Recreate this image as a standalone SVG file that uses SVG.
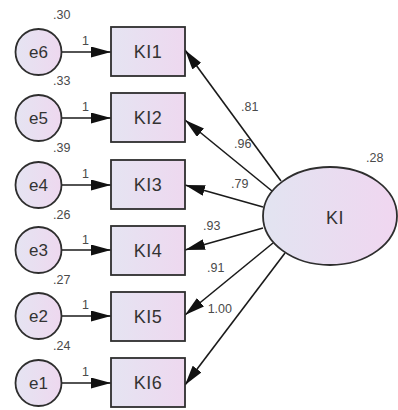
<svg xmlns="http://www.w3.org/2000/svg" width="398" height="410" viewBox="0 0 398 410">
  <defs>
    <linearGradient id="fillBox" x1="0" y1="0" x2="1" y2="0">
      <stop offset="0" stop-color="#e5e4f2"/>
      <stop offset="1" stop-color="#eed8ef"/>
    </linearGradient>
    <linearGradient id="fillLatent" x1="0" y1="0" x2="1" y2="0">
      <stop offset="0" stop-color="#e2e4f1"/>
      <stop offset="1" stop-color="#f0d6f0"/>
    </linearGradient>
    <marker id="head" markerUnits="userSpaceOnUse" markerWidth="21" markerHeight="11" refX="20" refY="5.5" orient="auto" viewBox="0 0 21 11">
      <path d="M0,0 L20,5.5 L0,11 Z" fill="#111"/>
    </marker>
    <style>
      .node { stroke: #2e2e2e; stroke-width: 1.8; }
      .box { fill: url(#fillBox); }
      .err { fill: url(#fillBox); }
      .lat { fill: url(#fillLatent); }
      .name { font-family: "Liberation Sans", Arial, sans-serif; font-size: 18px; fill: #333; text-anchor: middle; letter-spacing: 0.5px; }
      .ename { font-family: "Liberation Sans", Arial, sans-serif; font-size: 17px; fill: #333; text-anchor: middle; }
      .num { font-family: "Liberation Sans", Arial, sans-serif; font-size: 12.5px; fill: #4a4a4a; }
      .edge { stroke: #1a1a1a; stroke-width: 1.6; fill: none; marker-end: url(#head); }
    </style>
  </defs>

  <rect width="398" height="410" fill="#ffffff"/>

  <!-- loading and variance labels -->
  <g id="labels" class="num">
    <text x="53" y="19">.30</text>
    <text x="53" y="85">.33</text>
    <text x="53" y="152">.39</text>
    <text x="53" y="219">.26</text>
    <text x="53" y="284">.27</text>
    <text x="53" y="350">.24</text>
    <text x="82" y="45">1</text>
    <text x="82" y="111">1</text>
    <text x="82" y="178">1</text>
    <text x="82" y="244">1</text>
    <text x="82" y="309">1</text>
    <text x="82" y="376">1</text>
    <text x="241" y="111">.81</text>
    <text x="234" y="148">.96</text>
    <text x="231" y="188">.79</text>
    <text x="203" y="230">.93</text>
    <text x="207" y="272">.91</text>
    <text x="232" y="313" text-anchor="end">1.00</text>
    <text x="366" y="162">.28</text>
  </g>

  <!-- connectors -->
  <g id="connectors">
    <line class="edge" x1="62" y1="52" x2="111" y2="52"/>
    <line class="edge" x1="62" y1="118" x2="111" y2="118"/>
    <line class="edge" x1="62" y1="185" x2="111" y2="185"/>
    <line class="edge" x1="62" y1="250" x2="111" y2="250"/>
    <line class="edge" x1="62" y1="316" x2="111" y2="316"/>
    <line class="edge" x1="62" y1="383" x2="111" y2="383"/>
    <line class="edge" x1="281" y1="181" x2="185" y2="50"/>
    <line class="edge" x1="272" y1="191" x2="185" y2="120"/>
    <line class="edge" x1="263" y1="207" x2="185" y2="185"/>
    <line class="edge" x1="263" y1="228" x2="185" y2="250"/>
    <line class="edge" x1="273" y1="243" x2="185" y2="315"/>
    <line class="edge" x1="285" y1="253" x2="185" y2="385"/>
  </g>

  <!-- error terms -->
  <g id="e6"><circle class="node err" cx="38.5" cy="52" r="23"/><text class="ename" x="38.5" y="58">e6</text></g>
  <g id="e5"><circle class="node err" cx="38.5" cy="118" r="23"/><text class="ename" x="38.5" y="124">e5</text></g>
  <g id="e4"><circle class="node err" cx="38.5" cy="185" r="23"/><text class="ename" x="38.5" y="191">e4</text></g>
  <g id="e3"><circle class="node err" cx="38.5" cy="250" r="23"/><text class="ename" x="38.5" y="256">e3</text></g>
  <g id="e2"><circle class="node err" cx="38.5" cy="316" r="23"/><text class="ename" x="38.5" y="322">e2</text></g>
  <g id="e1"><circle class="node err" cx="38.5" cy="383" r="23"/><text class="ename" x="38.5" y="389">e1</text></g>

  <!-- observed indicators -->
  <g id="KI1"><rect class="node box" x="111" y="27" width="74" height="49"/><text class="name" x="148" y="58">KI1</text></g>
  <g id="KI2"><rect class="node box" x="111" y="93" width="74" height="49"/><text class="name" x="148" y="124">KI2</text></g>
  <g id="KI3"><rect class="node box" x="111" y="160" width="74" height="49"/><text class="name" x="148" y="191">KI3</text></g>
  <g id="KI4"><rect class="node box" x="111" y="226" width="74" height="49"/><text class="name" x="148" y="257">KI4</text></g>
  <g id="KI5"><rect class="node box" x="111" y="292" width="74" height="49"/><text class="name" x="148" y="323">KI5</text></g>
  <g id="KI6"><rect class="node box" x="111" y="358" width="74" height="49"/><text class="name" x="148" y="389">KI6</text></g>

  <!-- latent factor -->
  <g id="KI"><ellipse class="node lat" cx="330" cy="216" rx="67" ry="49"/><text class="name" x="335" y="224">KI</text></g>
</svg>
